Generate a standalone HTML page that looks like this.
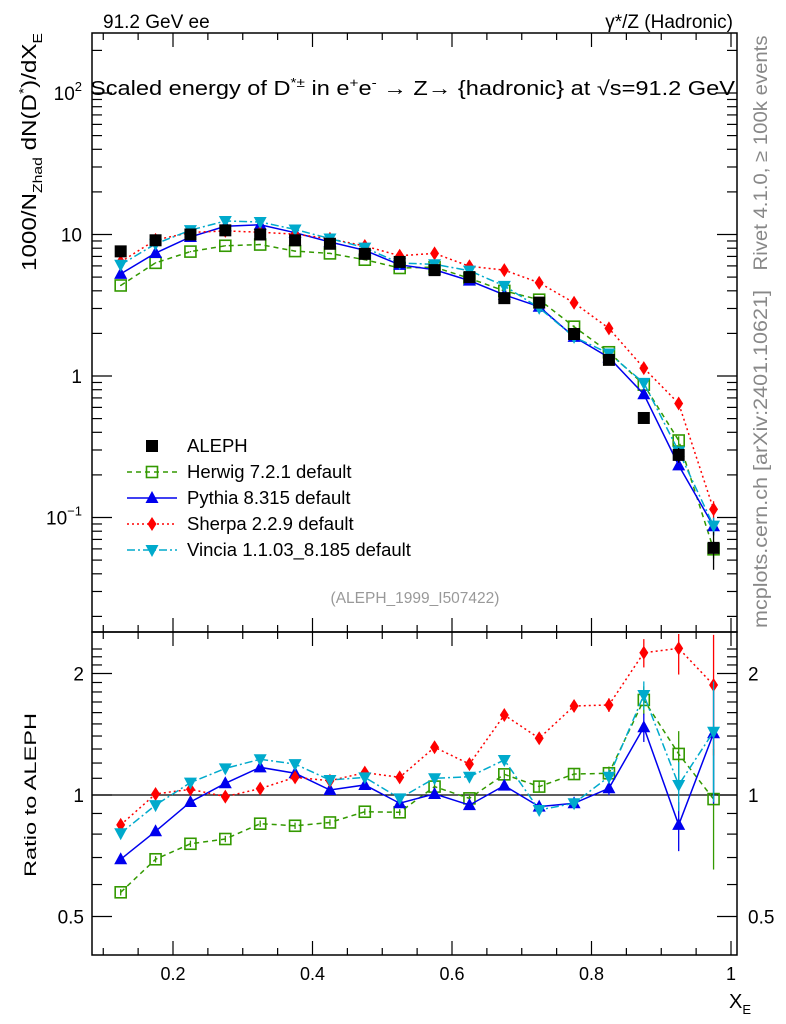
<!DOCTYPE html>
<html><head><meta charset="utf-8">
<style>
body{margin:0;background:#fff;}
svg{display:block;font-family:"Liberation Sans",sans-serif;}
</style></head>
<body>
<svg id="chart" width="786" height="1024" viewBox="0 0 786 1024">
<text x="103" y="28" font-size="19">91.2 GeV ee</text>
<text x="733" y="28" font-size="19" text-anchor="end">γ*/Z (Hadronic)</text>
<text x="90" y="95" font-size="20" textLength="645" lengthAdjust="spacingAndGlyphs">Scaled energy of D<tspan dy="-8" font-size="13">*±</tspan><tspan dy="8"> in e</tspan><tspan dy="-8" font-size="13">+</tspan><tspan dy="8">e</tspan><tspan dy="-8" font-size="13">-</tspan><tspan dy="8"> →  Z→ {hadronic} at √s=91.2 GeV</tspan></text>
<text transform="translate(36,152) rotate(-90)" font-size="20" text-anchor="middle" textLength="238" lengthAdjust="spacingAndGlyphs">1000/N<tspan dy="6" font-size="13">Zhad</tspan><tspan dy="-6"> dN(D</tspan><tspan dy="-8" font-size="13">*</tspan><tspan dy="8">)/dX</tspan><tspan dy="6" font-size="13">E</tspan></text>
<text transform="translate(36,795) rotate(-90)" font-size="17" text-anchor="middle" textLength="164" lengthAdjust="spacingAndGlyphs">Ratio to ALEPH</text>
<text transform="translate(767,153) rotate(-90)" font-size="19" fill="#888" text-anchor="middle" textLength="235" lengthAdjust="spacingAndGlyphs">Rivet 4.1.0, ≥ 100k events</text>
<text transform="translate(767,459) rotate(-90)" font-size="19" fill="#888" text-anchor="middle" textLength="338" lengthAdjust="spacingAndGlyphs">mcplots.cern.ch [arXiv:2401.10621]</text>
<text x="415" y="603" font-size="15.5" fill="#999" text-anchor="middle">(ALEPH_1999_I507422)</text>
<text x="729" y="1008" font-size="20">X<tspan dy="6" font-size="13">E</tspan></text>
<g id="plots"></g>
</svg>
<script>
const xCenters=[0.125,0.175,0.225,0.275,0.325,0.375,0.425,0.475,0.525,0.575,0.625,0.675,0.725,0.775,0.825,0.875,0.925,0.975];
const alephVals=[7.6,9.1,10.0,10.7,10.0,9.1,8.6,7.3,6.4,5.6,5.0,3.55,3.3,1.98,1.3,0.505,0.277,0.061];
const alephRelErr=[0.03,0.03,0.03,0.03,0.03,0.03,0.03,0.03,0.03,0.03,0.04,0.04,0.05,0.05,0.06,0.07,0.12,0.3];
const herwigRatio=[0.574,0.693,0.757,0.778,0.849,0.839,0.855,0.909,0.906,1.049,0.981,1.125,1.049,1.127,1.132,1.72,1.264,0.977];
const pythiaRatio=[0.693,0.813,0.961,1.069,1.171,1.132,1.029,1.059,0.954,1.006,0.944,1.055,0.936,0.954,1.039,1.472,0.843,1.422];
const sherpaRatio=[0.843,1.006,1.033,0.991,1.037,1.106,1.085,1.136,1.106,1.313,1.193,1.578,1.382,1.662,1.671,2.252,2.309,1.873];
const vinciaRatio=[0.804,0.944,1.073,1.164,1.226,1.193,1.089,1.106,0.981,1.1,1.11,1.221,0.918,0.954,1.11,1.769,1.059,1.435];
const mcRelErr=[0.01,0.01,0.01,0.01,0.01,0.01,0.01,0.01,0.01,0.015,0.015,0.015,0.02,0.02,0.025,0.04,0.07,0.14];
const seriesNames=["Herwig 7.2.1 default","Pythia 8.315 default","Sherpa 2.2.9 default","Vincia 1.1.03_8.185 default"];

const NS="http://www.w3.org/2000/svg";
const g=document.getElementById('plots');
const X=v=>173+(v-0.2)*697.5;
const Y=v=>376-141.5*Math.log10(v);
const R=v=>795-403.6*Math.log10(v);
const L=92,RT=737,T1=33,B1=632,B2=955;
function el(tag,attrs,parent){const e=document.createElementNS(NS,tag);for(const k in attrs)e.setAttribute(k,attrs[k]);(parent||g).appendChild(e);return e;}

function marker(kind,x,y,color,parent){
  let e;
  if(kind==='sq'){e=el('rect',{x:x-5.5,y:y-5.5,width:11,height:11,fill:'none',stroke:color,'stroke-width':1.6},parent);}
  else if(kind==='fsq'){e=el('rect',{x:x-6,y:y-6,width:12,height:12,fill:color},parent);}
  else if(kind==='tu'){e=el('polygon',{points:`${x},${y-7} ${x-6.5},${y+5} ${x+6.5},${y+5}`,fill:color},parent);}
  else if(kind==='td'){e=el('polygon',{points:`${x},${y+7} ${x-6.5},${y-5} ${x+6.5},${y-5}`,fill:color},parent);}
  else {e=el('polygon',{points:`${x},${y-7} ${x-4.5},${y} ${x},${y+7} ${x+4.5},${y}`,fill:color},parent);}
  return e;
}
const styles=[
 {ratio:herwigRatio,color:'#339900',dash:'5,4',kind:'sq',key:'herwig'},
 {ratio:pythiaRatio,color:'#0000ee',dash:'',kind:'tu',key:'pythia'},
 {ratio:sherpaRatio,color:'#ff0000',dash:'2,3',kind:'di',key:'sherpa'},
 {ratio:vinciaRatio,color:'#00aacc',dash:'8,3,2,3',kind:'td',key:'vincia'}
];

const f1=el('rect',{x:L,y:T1,width:RT-L,height:B1-T1,fill:'none',stroke:'#000','stroke-width':1.5});


const f2=el('rect',{x:L,y:B1,width:RT-L,height:B2-B1,fill:'none',stroke:'#000','stroke-width':1.5});



for(let i=0;i<=18;i++){
  const v=0.1+i*0.05; if(v>1.005)break;
  const x=X(v); const major=Math.abs(v*5-Math.round(v*5))<1e-6;
  const len=major?14:7;
  [[B1,-1],[T1,1],[B2,-1],[B1,1]].forEach(([y0,d])=>el('line',{x1:x,x2:x,y1:y0,y2:y0+d*len,stroke:'#000','stroke-width':1.2}));
  if(major){const t=el('text',{x:x,y:980,'font-size':18,'text-anchor':'middle'});t.textContent=(Math.abs(v-1)<1e-6)?'1':v.toFixed(1);
    
    }
}
for(let d=-2;d<=2;d++){
  for(let m=1;m<10;m++){
    const v=m*Math.pow(10,d); const y=Y(v); if(y<T1||y>B1)continue;
    const len=m===1?20:10;
    el('line',{x1:L,x2:L+len,y1:y,y2:y,stroke:'#000','stroke-width':1.2});
    el('line',{x1:RT,x2:RT-len,y1:y,y2:y,stroke:'#000','stroke-width':1.2});
  }
}
const yl=[[100,'10','2'],[10,'10',''],[1,'1',''],[0.1,'10','−1']];
yl.forEach(([v,b,e])=>{const t=el('text',{x:82,y:Y(v)+7,'font-size':19,'text-anchor':'end'});
  
  
  if(e){t.innerHTML=b+'<tspan dy="-9" font-size="13">'+e+'</tspan>';}else t.textContent=b;});
for(let k=5;k<=23;k++){
  const v=k/10; const y=R(v); if(y<B1||y>B2)continue;
  const major=(k===5||k===10||k===20); const len=major?20:10;
  el('line',{x1:L,x2:L+len,y1:y,y2:y,stroke:'#000','stroke-width':1.2});
  el('line',{x1:RT,x2:RT-len,y1:y,y2:y,stroke:'#000','stroke-width':1.2});
}
[[2,'2'],[1,'1'],[0.5,'0.5']].forEach(([v,s])=>{
  const a=el('text',{x:84,y:R(v)+7,'font-size':19,'text-anchor':'end'});a.textContent=s;
  
  
  const b=el('text',{x:748,y:R(v)+7,'font-size':19});b.textContent=s;
  
  
});
const one=el('line',{x1:L,x2:RT,y1:R(1),y2:R(1),stroke:'#000','stroke-width':1.2});



styles.forEach(s=>{
  const main=el('g',{});
  
  
  const vals=xCenters.map((x,i)=>alephVals[i]*s.ratio[i]);
  el('polyline',{points:xCenters.map((x,i)=>X(x)+','+Y(vals[i])).join(' '),fill:'none',stroke:s.color,'stroke-width':1.5,'stroke-dasharray':s.dash},main);
  xCenters.forEach((x,i)=>{
    const e=vals[i]*mcRelErr[i];
    el('line',{x1:X(x),x2:X(x),y1:Y(vals[i]+e),y2:Y(Math.max(vals[i]-e,1e-3)),stroke:s.color,'stroke-width':1.3},main);
    marker(s.kind,X(x),Y(vals[i]),s.color,main);
  });
  const rg=el('g',{});
  
  
  el('polyline',{points:xCenters.map((x,i)=>X(x)+','+R(s.ratio[i])).join(' '),fill:'none',stroke:s.color,'stroke-width':1.5,'stroke-dasharray':s.dash},rg);
  xCenters.forEach((x,i)=>{
    const e=s.ratio[i]*Math.hypot(mcRelErr[i],alephRelErr[i]*0.5+ (i>=15?alephRelErr[i]*0.5:0));
    el('line',{x1:X(x),x2:X(x),y1:Math.max(R(s.ratio[i]+e),B1+2),y2:R(Math.max(s.ratio[i]-e,0.3)),stroke:s.color,'stroke-width':1.3},rg);
    marker(s.kind,X(x),R(s.ratio[i]),s.color,rg);
  });
});
const dg=el('g',{});


xCenters.forEach((x,i)=>{
  const v=alephVals[i],e=v*alephRelErr[i];
  el('line',{x1:X(x),x2:X(x),y1:Y(v+e),y2:Y(v-e),stroke:'#000','stroke-width':1.3},dg);
  marker('fsq',X(x),Y(v),'#000',dg);
});

const legend=el('g',{});


const ly0=446,ldy=26;
const le0=el('g',{},legend);


marker('fsq',152,ly0,'#000',le0);
const t0=el('text',{x:187,y:ly0+6,'font-size':18.5},le0);t0.textContent='ALEPH';
styles.forEach((s,k)=>{
  const y=ly0+ldy*(k+1);
  const le=el('g',{},legend);
  
  
  el('line',{x1:127,x2:177,y1:y,y2:y,stroke:s.color,'stroke-width':1.5,'stroke-dasharray':s.dash},le);
  marker(s.kind,152,y,s.color,le);
  const t=el('text',{x:187,y:y+6,'font-size':18.5},le);t.textContent=seriesNames[k];
});
</script>
</body></html>
